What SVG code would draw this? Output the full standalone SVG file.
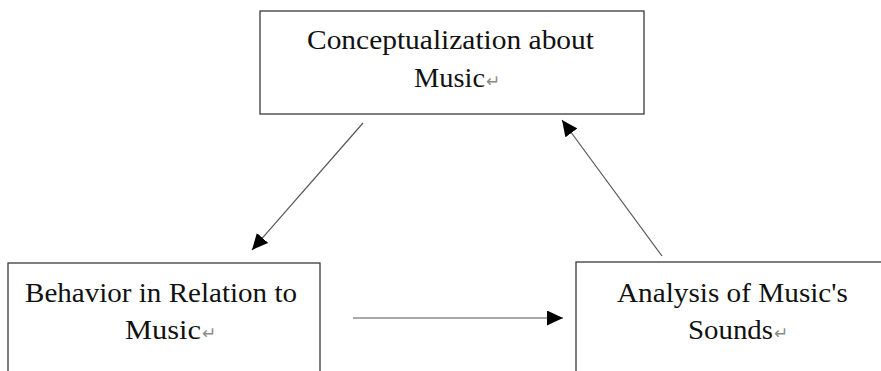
<svg xmlns="http://www.w3.org/2000/svg" width="881" height="371" viewBox="0 0 881 371">
  <style>
    .box { fill: #ffffff; stroke: #3a3a3a; stroke-width: 1.3; }
    .lbl { font-family: "Liberation Serif", "Times New Roman", serif; font-size: 27px; fill: #111111; }
    .pm { font-family: "DejaVu Sans", sans-serif; font-size: 17px; fill: #8a8a8a; }
    .link { stroke: #555555; stroke-width: 1.2; fill: none; marker-end: url(#head); }
  </style>
  <defs>
    <marker id="head" markerUnits="userSpaceOnUse" markerWidth="17" markerHeight="15" refX="16" refY="7.5" orient="auto">
      <path d="M0,0 L16,7.5 L0,15 Z" fill="#000000"/>
    </marker>
  </defs>
  <rect width="881" height="371" fill="#ffffff"/>

  <g id="node-conceptualization">
    <rect class="box" x="260" y="11" width="384" height="103"/>
    <text class="lbl" x="307" y="49" textLength="287" lengthAdjust="spacingAndGlyphs">Conceptualization about</text>
    <text class="lbl" x="414" y="87" textLength="71" lengthAdjust="spacingAndGlyphs">Music</text>
    <text class="pm" x="486" y="87">↵</text>
  </g>

  <g id="node-behavior">
    <rect class="box" x="8" y="263" width="312" height="130"/>
    <text class="lbl" x="25" y="302" textLength="272" lengthAdjust="spacingAndGlyphs">Behavior in Relation to</text>
    <text class="lbl" x="125" y="339" textLength="76" lengthAdjust="spacingAndGlyphs">Music</text>
    <text class="pm" x="202" y="339">↵</text>
  </g>

  <g id="node-analysis">
    <rect class="box" x="576" y="262" width="330" height="130"/>
    <text class="lbl" x="617" y="302" textLength="231" lengthAdjust="spacingAndGlyphs">Analysis of Music's</text>
    <text class="lbl" x="688" y="339" textLength="85" lengthAdjust="spacingAndGlyphs">Sounds</text>
    <text class="pm" x="774" y="339">↵</text>
  </g>

  <g id="connectors">
    <line class="link" x1="363" y1="123" x2="252" y2="250"/>
    <line class="link" x1="353" y1="318" x2="563" y2="318"/>
    <line class="link" x1="662" y1="256" x2="562" y2="120"/>
  </g>
</svg>
